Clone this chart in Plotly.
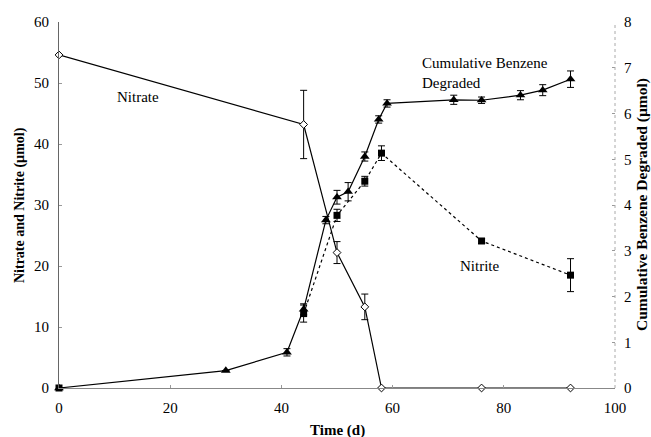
import plotly.graph_objects as go

# Nitrate (umol)
nitrate_t = [0, 44, 50, 55, 58, 76, 92]
nitrate_v = [54.6, 43.2, 22.2, 13.3, 0, 0, 0]
nitrate_err = [0, 5.6, 1.8, 2.1, 0, 0, 0]

# Nitrite (umol)
nitrite_t = [0, 44, 50, 55, 58, 76, 92]
nitrite_v = [0, 12.2, 28.3, 33.9, 38.5, 24.1, 18.5]
nitrite_err = [0, 1.4, 1.0, 0.8, 1.2, 0.4, 2.7]

# Cumulative benzene degraded (umol)
benz_t = [0, 30, 41, 44, 48, 50, 52, 55, 57.5, 59, 71, 76, 83, 87, 92]
benz_v = [0, 0.38, 0.78, 1.72, 3.67, 4.17, 4.29, 5.06, 5.87, 6.22, 6.30, 6.29, 6.40, 6.51, 6.75]
benz_err = [0, 0, 0.08, 0.12, 0.08, 0.15, 0.2, 0.1, 0.08, 0.08, 0.1, 0.07, 0.1, 0.12, 0.18]

x_ticks = [0, 20, 40, 60, 80, 100]

FONT = "Liberation Serif"

fig = go.Figure()
# nitrite dotted line (no connection from the day-0 point)
fig.add_trace(go.Scatter(
    x=nitrite_t[1:], y=nitrite_v[1:], mode="lines",
    line=dict(color="black", width=1.2, dash="dot"),
    cliponaxis=False, showlegend=False, hoverinfo="skip"))
fig.add_trace(go.Scatter(
    x=nitrite_t, y=nitrite_v, mode="markers",
    marker=dict(symbol="square", size=7, color="black"),
    error_y=dict(type="data", array=nitrite_err, color="black", thickness=1, width=3.5),
    cliponaxis=False, showlegend=False))
fig.add_trace(go.Scatter(
    x=nitrate_t, y=nitrate_v, mode="lines+markers",
    line=dict(color="black", width=1.2),
    marker=dict(symbol="diamond", size=6, color="white", line=dict(color="black", width=1)),
    error_y=dict(type="data", array=nitrate_err, color="black", thickness=1, width=3.5),
    cliponaxis=False, showlegend=False))
fig.add_trace(go.Scatter(
    x=benz_t, y=benz_v, mode="lines+markers", yaxis="y2",
    line=dict(color="black", width=1.2),
    marker=dict(symbol="triangle-up", size=8.5, color="black"),
    error_y=dict(type="data", array=benz_err, color="black", thickness=1, width=3.5),
    cliponaxis=False, showlegend=False))

fig.add_annotation(x=14.2, y=47.7, text="Nitrate", showarrow=False,
                   font=dict(family=FONT, size=15, color="black"))
fig.add_annotation(x=64.9, y=51.6, text="Cumulative Benzene<br>Degraded", showarrow=False,
                   xanchor="left", align="left",
                   font=dict(family=FONT, size=15, color="black"))
fig.add_annotation(x=75.7, y=20, text="Nitrite", showarrow=False,
                   font=dict(family=FONT, size=15, color="black"))

# axis titles
fig.add_annotation(xref="paper", yref="paper", x=0.5, y=-0.1148, text="<b>Time (d)</b>",
                   showarrow=False, xanchor="center", yanchor="middle", borderpad=0,
                   font=dict(family=FONT, size=15, color="black"))
fig.add_annotation(xref="paper", yref="paper", x=-0.0701, y=0.5,
                   text="<b>Nitrate and Nitrite (µmol)</b>", textangle=-90,
                   showarrow=False, xanchor="center", yanchor="middle", borderpad=0,
                   font=dict(family=FONT, size=14, color="black"))
fig.add_annotation(xref="paper", yref="paper", x=1.0486, y=0.5,
                   text="<b>Cumulative Benzene Degraded (µmol)</b>", textangle=-90,
                   showarrow=False, xanchor="center", yanchor="middle", borderpad=0,
                   font=dict(family=FONT, size=15.5, color="black"))

# dotted right-hand axis line
fig.add_shape(type="line", xref="paper", yref="paper", x0=1, x1=1, y0=0, y1=1,
              line=dict(color="#aaa", width=1, dash="dot"))

axis_common = dict(showgrid=False, zeroline=False, ticks="inside", ticklen=3,
                   tickcolor="#999", linewidth=1, automargin=False,
                   tickfont=dict(family=FONT, size=15, color="black"))

fig.update_layout(
    width=651, height=437,
    margin=dict(l=59, r=36, t=22, b=49),
    paper_bgcolor="white", plot_bgcolor="white",
    font=dict(family=FONT, color="black"),
    xaxis=dict(range=[0, 100], tickvals=x_ticks, showline=True, linecolor="#888",
               ticklabelstandoff=6, **axis_common),
    yaxis=dict(range=[0, 60], dtick=10, showline=True, linecolor="#666",
               ticklabelstandoff=6, **axis_common),
    yaxis2=dict(range=[0, 8], dtick=1, overlaying="y", side="right", showline=False,
                ticklabelstandoff=8, **axis_common),
)

fig.write_html("out.html")
